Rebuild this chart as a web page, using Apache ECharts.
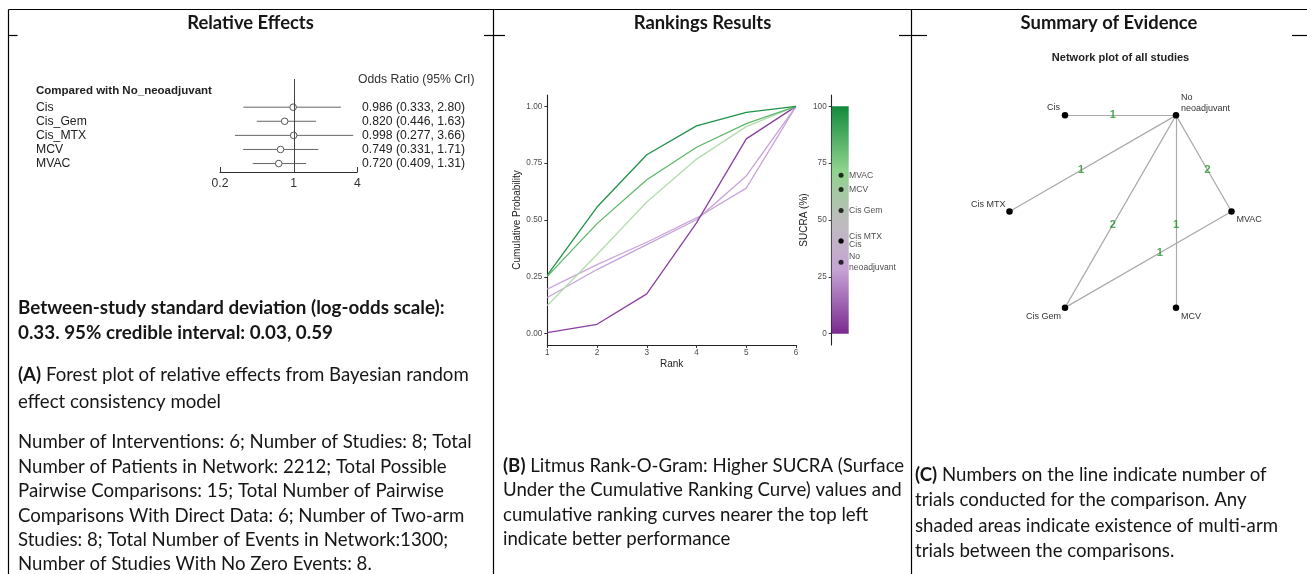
<!DOCTYPE html>
<html><head><meta charset="utf-8">
<script src="https://cdn.jsdelivr.net/npm/echarts@6/dist/echarts.min.js"></script>
<style>html,body{margin:0;padding:0;background:#fff}#c{width:1307px;height:574px}</style>
</head><body><div id="c"></div>
<script>
// ---------------- DATA ----------------
// Panel A: forest plot (odds ratios vs No_neoadjuvant)
const forestNames = ['Cis', 'Cis_Gem', 'Cis_MTX', 'MCV', 'MVAC'];
const forestOR = [0.986, 0.820, 0.998, 0.749, 0.720];
const forestLo = [0.333, 0.446, 0.277, 0.331, 0.409];
const forestHi = [2.80, 1.63, 3.66, 1.71, 1.31];

// Panel B: cumulative ranking probabilities by rank
const ranks = [1, 2, 3, 4, 5, 6];
const cumMVAC = [0.257, 0.557, 0.787, 0.914, 0.974, 1.0];
const cumMCV = [0.252, 0.484, 0.677, 0.820, 0.924, 1.0];
const cumCisGem = [0.124, 0.348, 0.579, 0.768, 0.911, 1.0];
const cumCisMTX = [0.196, 0.304, 0.402, 0.509, 0.640, 1.0];
const cumCis = [0.159, 0.282, 0.392, 0.501, 0.694, 1.0];
const cumNoNeo = [0.004, 0.041, 0.175, 0.487, 0.857, 1.0];
const probTicks = [0, 0.25, 0.5, 0.75, 1];

// SUCRA (%)
const sucraNames = ['MVAC', 'MCV', 'Cis Gem', 'Cis MTX', 'Cis', 'No\nneoadjuvant'];
const sucraValues = [69.7, 63.4, 54.2, 40.9, 40.6, 31.4];
const sucraTicks = [0, 25, 50, 75, 100];

// Panel C: network (circle layout coordinates)
const netNodes = ['MVAC', 'No neoadjuvant', 'Cis', 'Cis MTX', 'Cis Gem', 'MCV'];
const netNodeLabels = ['MVAC', 'No\nneoadjuvant', 'Cis', 'Cis MTX', 'Cis Gem', 'MCV'];
const netX = [1, 0.5, -0.5, -1, -0.5, 0.5];
const netY = [0, 0.866, 0.866, 0, -0.866, -0.866];
const netEdgeFrom = ['Cis', 'Cis MTX', 'Cis Gem', 'MCV', 'MVAC', 'MVAC'];
const netEdgeTo = ['No neoadjuvant', 'No neoadjuvant', 'No neoadjuvant', 'No neoadjuvant', 'No neoadjuvant', 'Cis Gem'];
const netEdgeTrials = [1, 1, 2, 1, 2, 1];

// Text blocks
const headers = ['Relative Effects', 'Rankings Results', 'Summary of Evidence'];
const sdLines = ['Between-study standard deviation (log-odds scale):', '0.33. 95% credible interval: 0.03, 0.59'];
const aLines = ['{b|(A)} Forest plot of relative effects from Bayesian random', 'effect consistency model'];
const statLines = ['Number of Interventions: 6; Number of Studies: 8; Total',
  'Number of Patients in Network: 2212; Total Possible',
  'Pairwise Comparisons: 15; Total Number of Pairwise',
  'Comparisons With Direct Data: 6; Number of Two-arm',
  'Studies: 8; Total Number of Events in Network:1300;',
  'Number of Studies With No Zero Events: 8.'];
const bLines = ['{b|(B)} Litmus Rank-O-Gram: Higher SUCRA (Surface',
  'Under the Cumulative Ranking Curve) values and',
  'cumulative ranking curves nearer the top left',
  'indicate better performance'];
const cLines = ['{b|(C)} Numbers on the line indicate number of',
  'trials conducted for the comparison. Any',
  'shaded areas indicate existence of multi-arm',
  'trials between the comparisons.'];

// ---------------- STYLE / LAYOUT ----------------
const chart = echarts.init(document.getElementById('c'), null, {renderer: 'canvas', width: 1307, height: 574});
const mctx = document.createElement('canvas').getContext('2d');
function fit(text, weight, family, w) {
  mctx.font = weight + ' 100px ' + family;
  return +(100 * w / mctx.measureText(text).width).toFixed(2);
}
const BODY = 'Lato';
const SANS = 'Liberation Sans, Arial, sans-serif';
const bodySize = fit(statLines[0], 'normal', BODY, 454);
const boldSize = fit(sdLines[0], 'bold', BODY, 427);
const headSize = fit(headers[0], 'bold', BODY, 126.7);
const forestSize = fit('0.986 (0.333, 2.80)', 'normal', '"Liberation Sans"', 103);
const forestHeadSize = fit('Compared with No_neoadjuvant', 'bold', '"Liberation Sans"', 176);
const netTitleSize = fit('Network plot of all studies', 'bold', '"Liberation Sans"', 137.7);

const G = [];
function ln(x1, y1, x2, y2) {
  G.push({type: 'line', silent: true, shape: {x1, y1, x2, y2}, style: {stroke: '#000', lineWidth: 1.2}});
}
function txt(x, y, text, st) {
  G.push({type: 'text', silent: true, x, y,
    style: Object.assign({text, fill: '#161616', align: 'left', verticalAlign: 'middle'}, st)});
}
function block(x, y0, lh, lines, size, weight) {
  lines.forEach((t, k) => txt(x, y0 + k * lh, t, {
    fontSize: size, fontFamily: BODY, fontWeight: weight || 'normal',
    rich: {b: {fontSize: size, fontFamily: BODY, fontWeight: 'bold', fill: '#161616'}}
  }));
}
// table rules
ln(8.5, 9.5, 1307, 9.5);
ln(8.5, 9.5, 8.5, 574); ln(493.5, 9.5, 493.5, 574); ln(911.5, 9.5, 911.5, 574);
ln(8.5, 35.5, 17.5, 35.5); ln(484, 35.5, 505, 35.5); ln(899, 35.5, 927, 35.5); ln(1292, 35.5, 1307, 35.5);
// headers
const headX = [250.5, 702.5, 1109];
headers.forEach((h, i) => txt(headX[i], 23.5, h, {align: 'center', fontSize: headSize, fontFamily: BODY, fontWeight: 'bold'}));
// paragraphs
block(18, 308.3, 25, sdLines, boldSize, 'bold');
block(18, 375, 26.5, aLines, bodySize);
block(18, 442.3, 24.4, statLines, bodySize);
block(503, 465.7, 24.5, bLines, bodySize);
block(915, 475, 25.3, cLines, bodySize);
// forest plot annotations
txt(358, 79.5, 'Odds Ratio (95% CrI)', {fontSize: forestSize, fontFamily: SANS, fill: '#333'});
txt(36, 91, 'Compared with No_neoadjuvant', {fontSize: forestHeadSize, fontFamily: SANS, fontWeight: 'bold', fill: '#222'});
// network title
txt(1120.5, 58.3, 'Network plot of all studies', {align: 'center', fontSize: netTitleSize, fontFamily: SANS, fontWeight: 'bold', fill: '#222'});

// rank line colours
const rankSeriesDefs = [
  ['Cis', cumCis, '#c7a2d8'],
  ['Cis MTX', cumCisMTX, '#c9a6da'],
  ['No neoadjuvant', cumNoNeo, '#8c3fa2'],
  ['Cis Gem', cumCisGem, '#b3dcae'],
  ['MCV', cumMCV, '#5fb76a'],
  ['MVAC', cumMVAC, '#1f9248']
];

// node label placement (style)
const nodeLabelStyle = {
  'MVAC': {align: 'left', offset: [5, 8]},
  'No neoadjuvant': {align: 'left', offset: [5, -12.5]},
  'Cis': {align: 'right', offset: [-5, -7.5]},
  'Cis MTX': {align: 'right', offset: [-4, -7]},
  'Cis Gem': {align: 'right', offset: [-4, 9]},
  'MCV': {align: 'left', offset: [5, 9]}
};
const EDGE_LABEL_FRAC = 0.43;
function nodeIdx(n) { return netNodes.indexOf(n); }

const axisLineDark = {show: true, onZero: false, lineStyle: {color: '#222', width: 1.1}};

const option = {
  animation: false,
  graphic: G,
  grid: [
    {left: 220, top: 79, width: 137.3, height: 93},
    {left: 547.3, top: 95, width: 248.7, height: 250},
    {left: 831.7, top: 95, width: 17, height: 250},
    {left: 987.3, top: 78.3, width: 266.4, height: 266.4}
  ],
  xAxis: [
    {gridIndex: 0, type: 'log', logBase: 10, min: 0.2, max: 4,
      axisLine: {show: true, onZero: false, lineStyle: {color: '#333', width: 1}},
      axisTick: {show: true, inside: true, length: 5, lineStyle: {color: '#333'}},
      axisLabel: {showMinLabel: true, showMaxLabel: true, fontSize: forestSize, color: '#333', margin: 6, fontFamily: SANS,
        formatter: v => String(+(+v).toPrecision(3))},
      splitLine: {show: false}},
    {gridIndex: 1, type: 'value', min: 1, max: 6, interval: 1,
      axisLine: axisLineDark,
      axisTick: {show: true, length: 3, lineStyle: {color: '#333'}},
      axisLabel: {fontSize: 8.2, color: '#4d4d4d', margin: 4, fontFamily: SANS},
      splitLine: {show: false},
      name: 'Rank', nameLocation: 'middle', nameGap: 14,
      nameTextStyle: {fontSize: 10, color: '#222', fontFamily: SANS}},
    {gridIndex: 2, type: 'value', min: 0, max: 1, show: false},
    {gridIndex: 3, type: 'value', min: -1.2, max: 1.2, show: false}
  ],
  yAxis: [
    {gridIndex: 0, type: 'value', inverse: true, min: -2, max: 4.6, show: false},
    {gridIndex: 1, type: 'value', min: -0.05, max: 1.05,
      axisLine: axisLineDark,
      axisTick: {show: true, length: 3, customValues: probTicks, lineStyle: {color: '#333'}},
      axisLabel: {customValues: probTicks, formatter: v => (+v).toFixed(2), fontSize: 8.2, color: '#4d4d4d', margin: 5, fontFamily: SANS},
      splitLine: {show: false},
      name: 'Cumulative Probability', nameLocation: 'middle', nameGap: 23, nameRotate: 90,
      nameTextStyle: {fontSize: 10, color: '#222', fontFamily: SANS}},
    {gridIndex: 2, type: 'value', min: -5, max: 105,
      axisLine: axisLineDark,
      axisTick: {show: true, length: 3, customValues: sucraTicks, lineStyle: {color: '#333'}},
      axisLabel: {customValues: sucraTicks, fontSize: 8.2, color: '#4d4d4d', margin: 5, fontFamily: SANS},
      splitLine: {show: false},
      name: 'SUCRA (%)', nameLocation: 'middle', nameGap: 21, nameRotate: 90,
      nameTextStyle: {fontSize: 10, color: '#222', fontFamily: SANS}},
    {gridIndex: 3, type: 'value', min: -1.2, max: 1.2, show: false}
  ],
  series: []
};

// Panel A: forest custom series
option.series.push({
  type: 'custom', xAxisIndex: 0, yAxisIndex: 0, clip: false,
  encode: {x: [1, 2, 3], y: 0},
  data: forestNames.map((n, i) => [i, forestOR[i], forestLo[i], forestHi[i]]),
  renderItem: (params, api) => {
    const i = api.value(0);
    const pO = api.coord([api.value(1), i]);
    const pL = api.coord([api.value(2), i]);
    const pH = api.coord([api.value(3), i]);
    const lbl = forestOR[i].toPrecision(3) + ' (' + forestLo[i].toPrecision(3) + ', ' + forestHi[i].toPrecision(3) + ')';
    return {type: 'group', children: [
      {type: 'line', shape: {x1: pL[0], y1: pL[1], x2: pH[0], y2: pH[1]}, style: {stroke: '#666', lineWidth: 1}},
      {type: 'circle', shape: {cx: pO[0], cy: pO[1], r: 3.3}, style: {fill: '#fff', stroke: '#555', lineWidth: 1}},
      {type: 'text', x: 36, y: pO[1], style: {text: forestNames[i], fontSize: forestSize, fontFamily: SANS, fill: '#222', verticalAlign: 'middle'}},
      {type: 'text', x: 362, y: pO[1], style: {text: lbl, fontSize: forestSize, fontFamily: SANS, fill: '#222', verticalAlign: 'middle'}}
    ]};
  },
  markLine: {silent: true, symbol: 'none', label: {show: false},
    lineStyle: {color: '#444', type: 'solid', width: 1}, data: [{xAxis: 1}]}
});

// Panel B: rank lines
rankSeriesDefs.forEach(([name, arr, col]) => {
  option.series.push({
    type: 'line', name, xAxisIndex: 1, yAxisIndex: 1, symbol: 'none', silent: true,
    data: ranks.map((r, k) => [r, arr[k]]),
    lineStyle: {color: col, width: 1.3}
  });
});

// Colour bar
option.series.push({
  type: 'custom', xAxisIndex: 2, yAxisIndex: 2, silent: true,
  data: [[0, sucraTicks[0], sucraTicks[sucraTicks.length - 1]]],
  encode: {x: 0, y: [1, 2]},
  renderItem: (params, api) => {
    const pTop = api.coord([0, api.value(2)]);
    const pBot = api.coord([1, api.value(1)]);
    return {type: 'rect', shape: {x: pTop[0], y: pTop[1], width: pBot[0] - pTop[0], height: pBot[1] - pTop[1]},
      style: {fill: new echarts.graphic.LinearGradient(0, 0, 0, 1, [
        {offset: 0, color: '#128a3c'}, {offset: 0.28, color: '#8ed38c'}, {offset: 0.5, color: '#bdbdbd'},
        {offset: 0.72, color: '#c6a3d5'}, {offset: 1, color: '#7a2a8f'}])}};
  }
});
const sucraLabelOffset = [0, 0, 0, -4, 3, 0];
option.series.push({
  type: 'scatter', xAxisIndex: 2, yAxisIndex: 2, silent: true,
  symbolSize: 5, itemStyle: {color: '#000'},
  data: sucraValues.map((v, i) => ({value: [0.55, v], label: {show: true, formatter: sucraNames[i],
    position: 'inside', align: 'left', offset: [8, sucraLabelOffset[i]],
    fontSize: 8.6, lineHeight: 11.6, color: '#222', fontFamily: SANS}}))
});

// Panel C: network graph
option.series.push({
  type: 'graph', coordinateSystem: 'cartesian2d', xAxisIndex: 3, yAxisIndex: 3, silent: true,
  symbolSize: 6.5, itemStyle: {color: '#000'},
  lineStyle: {color: '#aaa', width: 1.2, opacity: 1},
  data: netNodes.map((n, i) => ({name: n, value: [netX[i], netY[i]],
    label: Object.assign({show: true, formatter: netNodeLabels[i], position: 'inside', verticalAlign: 'middle',
      fontSize: 9, lineHeight: 11.5, color: '#333', fontFamily: SANS}, nodeLabelStyle[n])})),
  links: netEdgeFrom.map((s, k) => ({source: s, target: netEdgeTo[k], value: netEdgeTrials[k]}))
});
option.series.push({
  type: 'scatter', xAxisIndex: 3, yAxisIndex: 3, silent: true, symbolSize: 0,
  data: netEdgeFrom.map((s, k) => {
    const a = nodeIdx(s), b = nodeIdx(netEdgeTo[k]);
    return {value: [netX[a] + EDGE_LABEL_FRAC * (netX[b] - netX[a]), netY[a] + EDGE_LABEL_FRAC * (netY[b] - netY[a])],
      label: {show: true, position: 'inside', formatter: String(netEdgeTrials[k]), fontSize: 11,
        fontWeight: 'bold', color: '#22922a', fontFamily: SANS}};
  })
});

chart.setOption(option);
</script>
</body></html>
